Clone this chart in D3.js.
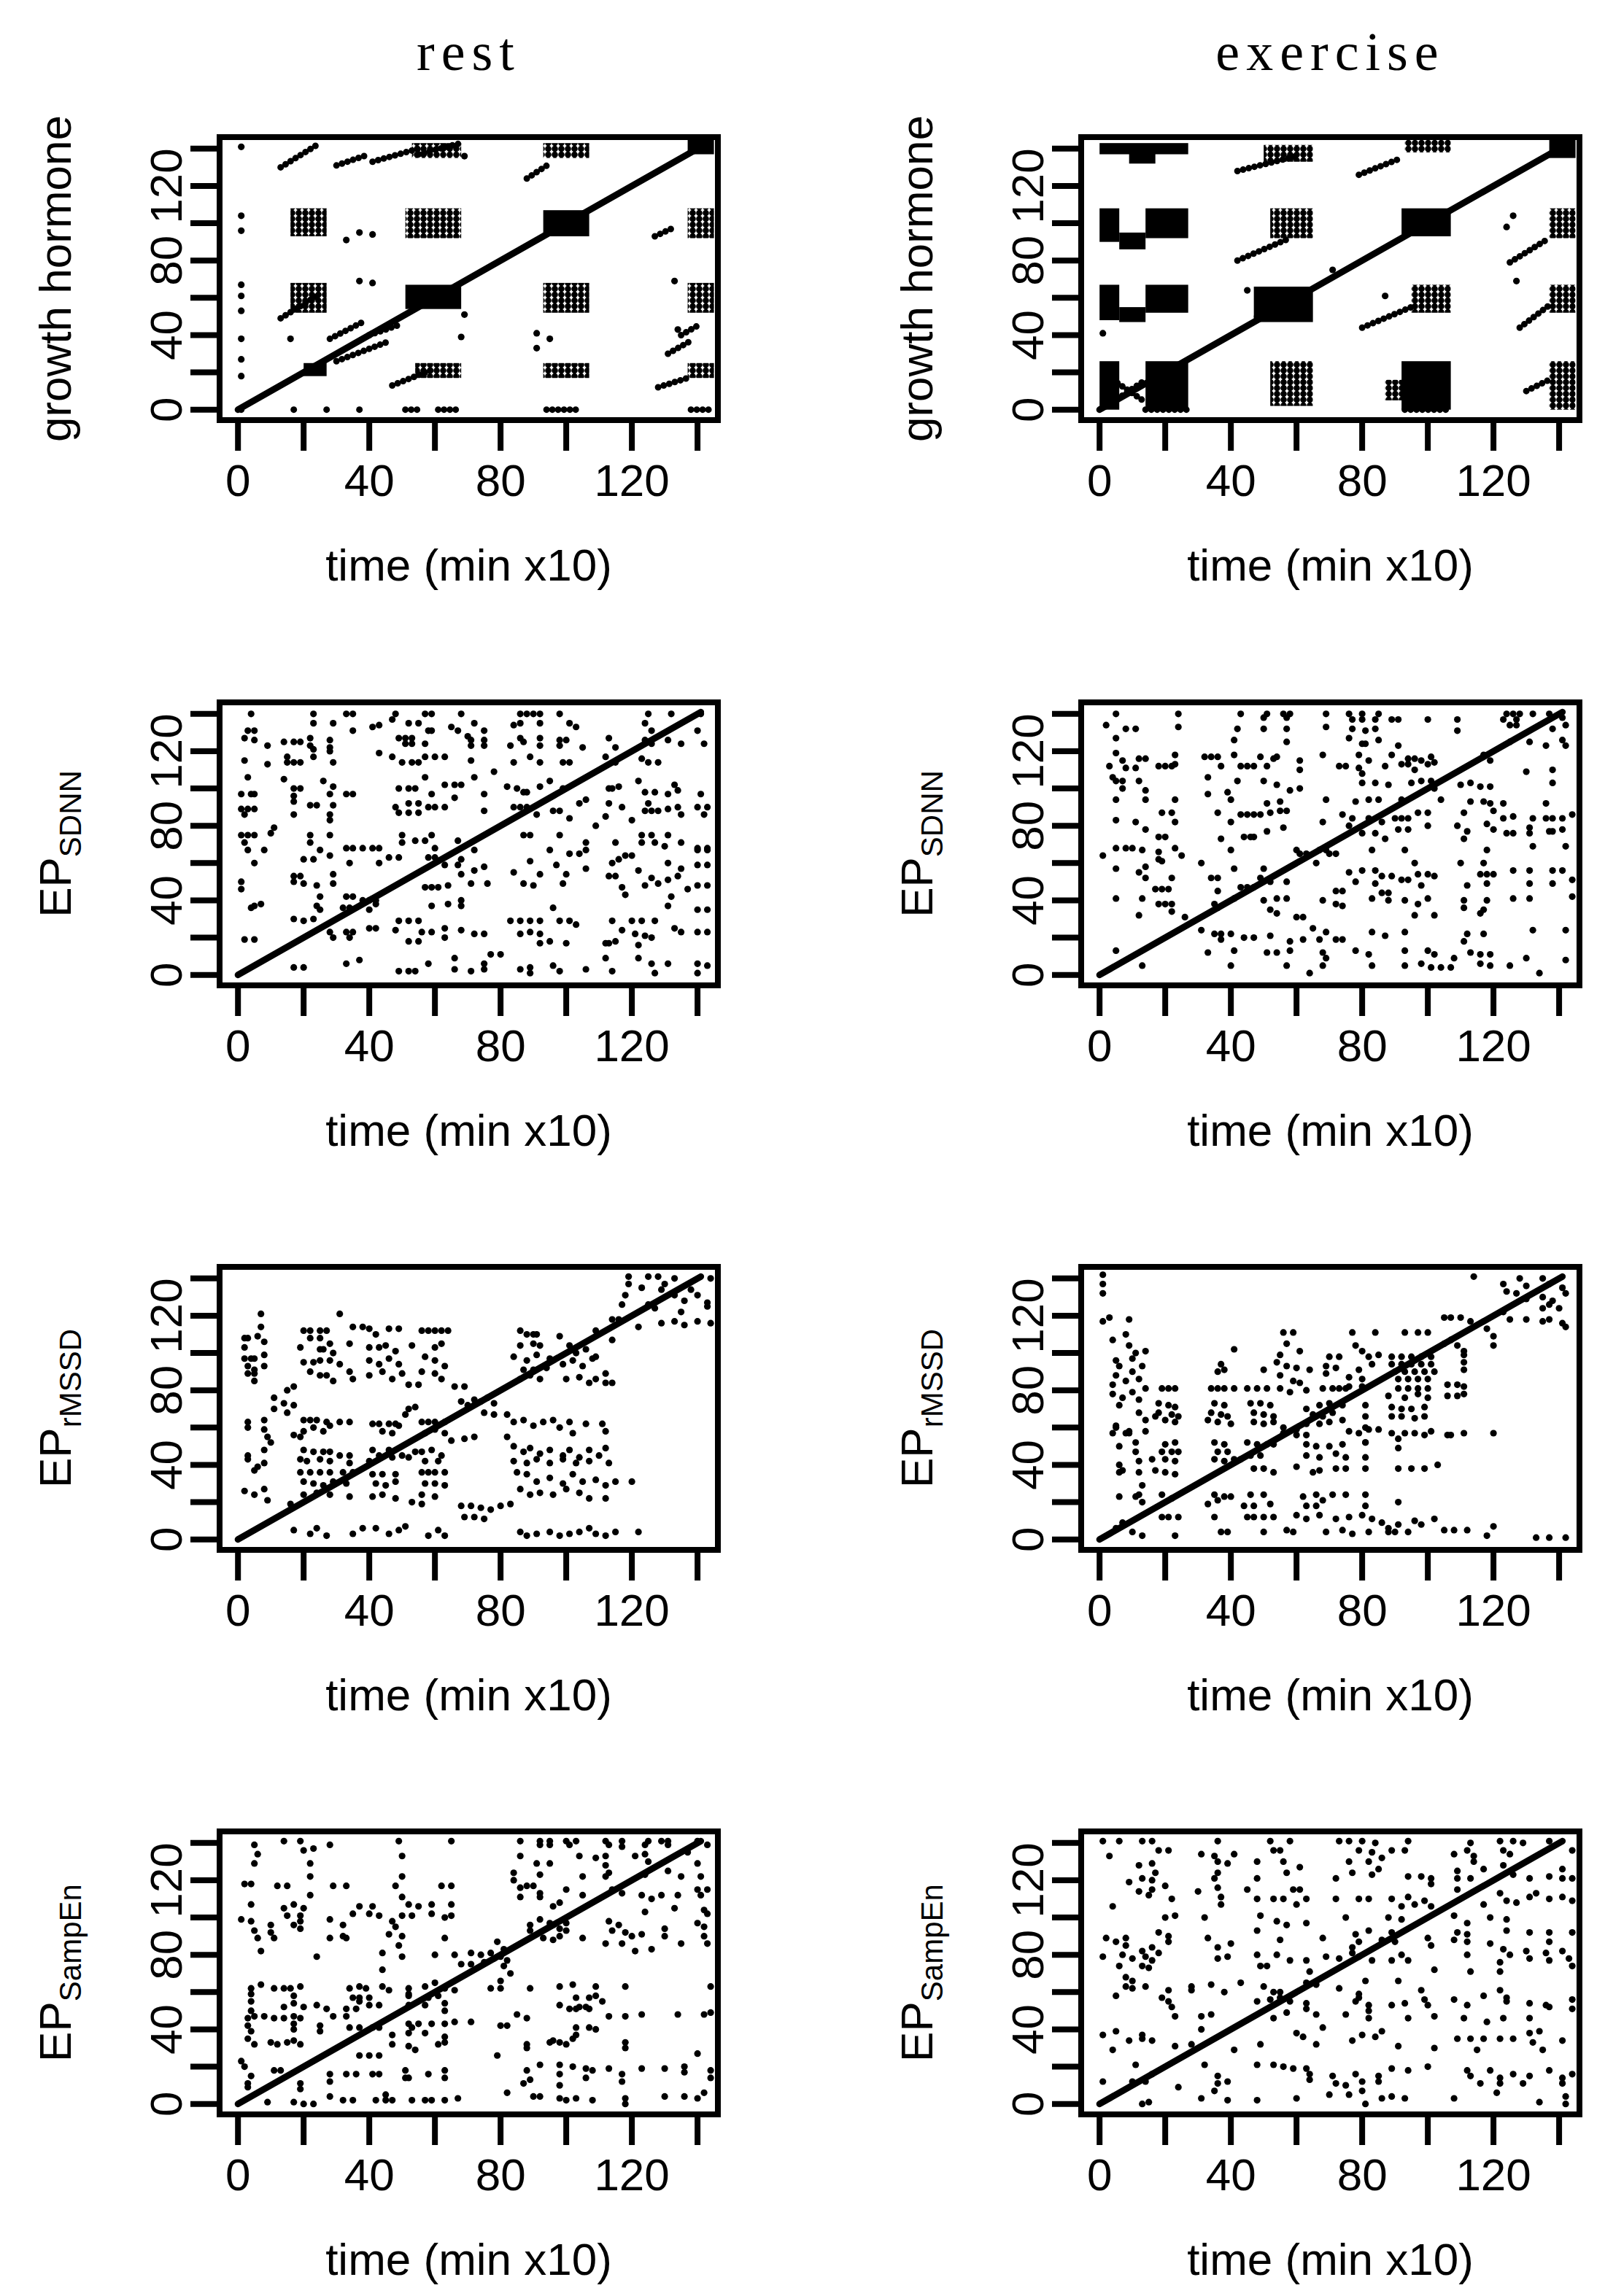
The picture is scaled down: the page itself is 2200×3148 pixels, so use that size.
<!DOCTYPE html>
<html>
<head>
<meta charset="utf-8">
<script src="https://cdn.jsdelivr.net/npm/d3@7"></script>
<style>
  body { margin: 0; background: #fff; }
  text { font-family: "Liberation Sans", Arial, sans-serif; fill: #000; }
</style>
</head>
<body>
<svg id="chart" width="2200" height="3148"></svg>
<script>
// column titles, row labels
var columns = ["rest", "exercise"];
var rowLabels = [
  {main: "growth hormone", sub: null},
  {main: "EP", sub: "SDNN"},
  {main: "EP", sub: "rMSSD"},
  {main: "EP", sub: "SampEn"}
];
var xTicks = [0, 20, 40, 60, 80, 100, 120, 140];
var tickLabels = [0, 40, 80, 120];
var diagonal = [[0, 0], [141, 141]];

// recurrence points, "x y" pairs
var restSDNN = "4 140,23 140,33 140,35 140,48 140,57 140,59 140,68 140,86 140,88 140,90 140,92 140,98 140,125 140,132 140,141 140,47 137,23 135,29 135,35 131,41 133,43 134,52 135,55 135,58 131,59 131,65 133,67 131,70 128,72 135,75 131,84 134,86 135,92 135,101 135,103 133,124 135,126 131,140 131,3 131,5 131,2 127,5 126,9 123,14 125,17 125,19 125,22 127,22 123,28 126,28 122,49 127,51 127,53 127,51 124,53 124,57 124,71 126,71 123,75 126,75 123,83 123,86 127,87 125,92 127,92 123,98 126,100 126,98 123,105 122,113 127,115 122,124 126,126 124,131 126,135 124,142 124,2 115,9 113,15 114,17 114,19 114,15 117,23 117,23 121,28 120,29 114,43 119,47 117,50 114,53 114,55 114,57 117,60 117,63 117,71 115,84 114,89 117,92 114,99 114,101 114,112 117,115 114,123 116,125 114,128 114,78 109,3 106,1 97,4 97,5 97,14 105,17 100,19 100,17 96,26 104,29 101,28 97,33 97,35 97,49 100,52 100,54 100,57 106,63 102,66 102,68 102,59 97,66 95,72 106,75 97,82 101,85 100,87 98,88 98,92 101,95 104,99 100,113 100,114 100,116 101,122 104,124 98,127 98,131 97,133 102,134 99,141 97,1 89,3 89,5 89,2 86,17 93,17 86,22 91,24 91,29 91,28 86,28 83,48 90,49 87,52 87,55 87,52 92,55 92,58 90,60 90,63 90,75 88,84 90,86 90,88 90,91 86,96 88,98 88,101 84,104 92,106 94,109 80,112 85,113 92,117 90,120 83,124 88,126 88,128 88,125 92,131 89,134 90,135 86,140 90,143 90,142 86,1 75,3 75,5 75,2 71,11 79,10 76,22 75,22 71,28 75,50 75,50 71,54 72,57 72,59 75,67 72,87 75,89 75,98 75,106 71,115 71,123 75,123 71,126 75,127 71,131 75,130 69,135 71,140 68,143 68,3 67,8 67,5 60,20 62,23 62,25 67,28 64,33 68,35 68,38 68,41 68,43 68,34 60,46 63,49 63,43 60,58 63,60 63,60 68,63 59,67 59,68 62,72 67,75 58,89 61,95 67,97 59,101 65,104 65,106 67,106 57,114 60,116 62,118 64,120 64,131 60,135 57,140 67,143 67,140 59,143 59,1 50,1 46,17 53,19 53,17 50,20 49,24 48,29 54,29 49,57 47,59 47,61 47,64 48,68 54,71 49,72 56,76 49,84 55,87 49,92 54,90 48,100 54,99 49,113 53,115 53,117 47,118 43,122 56,124 48,126 52,128 49,131 51,134 53,137 46,140 48,143 48,4 36,5 37,7 38,25 42,24 37,33 42,35 42,32 36,34 36,38 40,40 40,42 40,40 35,42 38,59 37,64 38,68 40,68 37,96 36,132 42,131 37,140 35,143 35,17 30,20 29,23 30,25 35,28 23,29 20,33 23,35 23,34 20,40 25,42 25,49 29,52 29,55 29,48 24,52 18,55 18,56 23,59 23,63 25,63 20,68 24,72 22,75 22,83 29,86 29,89 29,92 29,86 22,89 23,92 22,98 29,101 29,103 27,95 18,100 17,92 17,114 29,117 24,113 17,120 29,123 29,127 29,121 22,124 21,126 20,133 25,135 23,140 23,143 23,2 19,5 19,112 17,122 16,115 18,66 9,77 11,80 11,33 6,37 8,17 4,20 4,49 2,52 2,54 2,58 6,66 3,71 2,75 3,75 6,86 3,89 4,89 1,96 5,98 2,106 3,112 9,114 2,122 9,126 6,127 1,131 6,140 6,143 5,140 1";

var exSDNN = "5 140,24 140,43 140,51 140,56 140,58 140,69 140,76 140,80 140,85 140,124 140,126 140,128 140,132 140,137 140,50 138,57 138,77 137,80 137,84 137,89 137,91 137,100 137,109 137,123 137,127 137,141 138,2 134,8 132,11 132,24 133,42 132,50 132,57 132,69 133,77 132,81 131,84 132,109 131,125 134,127 134,138 132,142 134,5 127,41 126,57 125,76 127,80 124,81 124,85 126,91 123,125 125,131 125,136 123,141 126,142 123,5 119,7 115,12 116,14 116,23 118,32 117,34 117,36 117,41 118,49 117,53 116,54 117,61 115,68 118,79 118,82 115,89 118,94 116,96 116,98 115,101 117,102 114,117 118,119 115,18 112,20 112,22 112,23 113,37 112,43 112,45 112,47 112,51 112,61 110,73 112,75 112,79 111,80 108,87 112,92 113,94 113,96 110,100 113,130 109,138 110,8 111,11 111,3 112,4 106,5 104,7 104,7 100,12 104,14 99,33 106,33 97,42 104,39 98,50 104,54 102,58 99,61 100,80 103,84 103,88 102,95 103,98 104,101 104,102 100,110 102,113 103,116 101,119 101,138 103,5 94,14 94,23 94,40 94,51 92,55 93,69 94,78 93,82 94,85 94,92 94,104 94,113 93,117 93,119 92,123 92,136 92,19 87,22 87,36 87,43 86,45 86,47 86,49 86,52 87,55 88,57 88,74 86,77 84,82 84,86 82,90 84,92 84,94 84,97 87,100 87,111 87,120 88,123 84,126 85,132 84,136 84,138 84,141 84,144 86,5 83,11 82,14 78,23 82,40 82,51 77,56 79,68 82,76 80,80 76,84 76,87 73,91 78,94 78,100 80,109 80,112 77,111 73,118 81,120 78,124 76,126 76,131 76,131 79,137 77,138 77,141 78,37 73,44 74,46 74,47 74,18 74,20 74,1 64,5 68,8 68,10 68,13 67,18 66,18 62,19 61,23 68,25 64,31 60,40 67,60 67,61 65,63 65,67 67,69 67,70 65,72 65,83 67,93 67,118 67,132 69,142 69,66 60,5 57,14 58,12 55,96 60,110 60,117 60,14 52,22 52,34 52,36 52,41 57,50 57,49 52,52 50,57 50,76 55,80 56,78 50,84 56,86 53,89 53,84 49,92 51,94 51,97 54,100 54,102 53,98 48,112 48,116 54,118 54,120 54,118 49,126 56,131 56,131 49,138 56,138 49,141 56,144 51,17 46,19 46,21 46,72 45,74 45,5 41,13 41,36 45,43 47,45 47,47 47,41 41,50 40,54 41,57 41,68 40,72 38,74 37,83 41,86 44,88 44,88 40,93 40,97 38,100 41,111 40,111 36,118 40,117 35,126 41,131 41,144 42,18 38,20 38,22 38,35 38,36 36,12 32,22 34,26 31,52 35,54 33,60 31,62 31,96 32,102 32,116 33,31 24,35 22,37 22,40 22,37 19,44 20,47 20,52 21,58 18,62 19,65 25,69 23,67 19,72 19,74 19,83 23,87 21,93 23,112 22,111 18,117 22,132 24,142 24,5 13,33 12,41 13,51 12,54 12,58 13,68 12,69 9,78 13,82 11,93 13,100 13,102 11,108 9,113 12,116 11,119 11,130 9,142 8,13 5,40 5,57 5,68 5,83 5,93 5,98 6,101 4,104 4,107 4,116 6,119 5,125 5,64 1,134 1";

var restRMSSD = "116 118,117 126,118 131,119 137,119 141,123 135,125 141,128 141,130 137,133 140,125 126,127 124,129 134,133 131,136 128,135 122,138 134,140 131,143 127,143 125,144 140,122 114,129 116,133 117,136 115,140 117,144 116,109 112,114 107,114 118,7 121,7 114,2 108,3 108,6 109,8 106,2 103,2 97,4 97,5 97,8 99,3 93,5 91,8 93,3 89,5 89,5 85,31 121,20 112,22 112,25 112,27 112,35 114,38 114,22 108,25 108,28 105,19 103,25 102,26 102,29 100,34 105,20 95,23 95,25 96,28 96,31 94,22 90,25 88,27 88,29 85,34 90,35 86,40 113,42 110,46 113,49 113,40 103,43 103,45 104,48 101,40 96,43 94,46 97,49 94,40 88,44 90,47 86,50 89,56 112,58 112,60 112,62 112,64 112,53 104,60 103,62 105,57 98,60 96,63 93,56 90,60 89,62 86,52 83,55 83,86 112,88 110,90 110,91 110,86 104,90 105,92 104,84 98,88 96,91 99,95 97,87 91,90 91,94 92,86 86,89 88,92 86,98 109,101 104,103 100,106 102,109 98,99 94,102 96,105 93,108 97,104 87,107 84,109 86,112 89,112 84,114 84,100 86,69 82,68 74,70 72,72 75,74 74,76 76,78 73,75 68,78 67,82 67,66 82,17 82,15 80,11 76,14 73,17 72,11 70,15 68,52 70,54 71,51 67,3 63,8 64,3 60,8 59,10 52,9 55,3 45,8 48,3 43,8 41,5 37,6 39,20 64,22 64,24 64,27 63,28 61,31 63,34 63,17 56,19 55,20 58,23 60,26 58,20 48,23 47,26 47,28 47,31 45,19 43,21 42,25 43,28 42,34 45,34 41,41 62,43 62,46 62,48 62,44 58,47 57,49 61,41 48,43 45,46 48,47 44,40 42,50 45,52 44,54 47,56 63,58 63,60 63,63 63,57 57,60 59,63 57,56 47,59 48,62 45,57 42,61 42,65 53,69 54,72 55,84 63,87 64,90 61,93 63,96 64,98 60,101 63,102 57,106 62,111 62,112 58,82 55,84 50,87 47,89 49,92 46,95 48,99 45,101 48,104 44,107 48,110 45,112 49,84 42,88 41,91 43,95 41,99 43,103 41,107 42,113 41,19 36,22 36,25 36,28 36,32 36,35 36,20 31,23 30,26 29,29 31,33 30,20 24,24 25,28 24,34 23,2 26,5 24,8 27,41 35,44 35,48 35,42 30,45 29,48 31,41 23,44 24,48 22,56 36,58 36,60 36,63 36,57 30,60 30,63 29,56 24,60 23,53 20,56 19,68 18,71 18,74 17,77 16,80 18,83 19,85 36,88 35,91 31,95 33,99 30,102 35,105 31,109 32,112 29,115 31,86 27,89 24,92 25,96 24,100 27,104 25,107 22,112 22,120 31,9 21,16 19,69 12,72 12,75 11,17 5,22 3,24 6,27 2,35 3,38 6,42 6,46 3,49 5,51 7,58 2,61 5,63 2,86 4,88 2,91 3,95 4,98 2,101 3,104 4,107 6,109 3,112 2,115 4,122 4";

var exRMSSD = "114 141,123 137,128 140,130 136,135 140,137 137,141 135,124 133,127 132,130 129,135 130,138 128,142 132,135 124,137 126,140 124,123 122,125 118,130 118,135 117,137 118,141 116,142 114,1 142,1 137,1 132,1 117,3 119,9 118,105 119,107 119,110 119,113 117,118 113,120 109,120 104,111 101,4 107,8 110,9 104,11 100,14 101,5 96,6 93,10 97,13 93,5 88,4 83,8 85,10 90,12 86,14 81,4 78,6 72,7 76,10 79,12 75,12 68,14 64,5 61,8 57,9 58,6 50,11 52,11 47,12 42,6 40,7 37,13 29,11 23,13 20,5 6,7 9,10 4,13 2,23 2,41 102,37 94,38 91,36 90,56 111,59 111,57 105,55 99,61 101,54 95,57 93,60 92,64 91,50 91,55 88,59 85,61 84,70 98,73 98,69 93,72 92,69 89,77 111,78 104,80 101,82 98,83 94,79 91,85 99,84 111,76 87,80 86,93 111,97 111,100 111,111 99,111 95,111 91,89 98,92 98,95 98,98 98,101 98,89 94,92 94,95 94,98 94,101 94,90 90,93 90,96 90,99 90,102 90,91 86,94 86,97 86,100 86,105 105,107 107,109 104,19 81,21 81,23 81,34 81,36 81,38 81,41 81,45 81,48 81,51 81,55 81,58 79,63 80,68 81,71 81,73 81,75 81,76 82,80 82,91 81,94 81,97 81,100 81,106 83,109 83,106 77,109 77,111 82,111 78,88 77,93 76,97 78,100 76,18 73,21 72,23 71,18 68,22 67,24 66,17 66,20 64,23 63,35 73,38 72,34 68,37 67,39 66,33 64,36 63,40 62,46 73,49 73,52 72,47 68,50 67,53 66,47 63,50 62,53 63,56 60,63 70,67 72,70 73,74 72,65 67,68 66,71 68,74 64,63 62,67 62,70 63,60 59,81 72,81 66,81 60,89 71,92 70,95 70,99 71,89 66,92 66,96 65,99 66,4 57,5 60,9 57,14 58,56 57,60 56,63 56,76 58,79 57,82 59,85 59,89 57,91 54,93 57,96 57,99 56,101 58,106 56,107 56,111 57,120 57,81 52,91 49,20 51,23 52,19 47,22 47,24 47,16 43,20 43,23 42,17 37,20 36,23 35,35 52,38 51,36 47,39 47,35 43,38 42,41 43,45 52,48 51,51 51,53 51,46 45,49 45,43 43,47 38,50 38,53 36,63 51,66 50,70 50,74 51,63 45,67 44,72 46,75 44,60 39,65 36,67 37,72 38,75 38,81 52,81 44,81 38,6 36,12 36,91 38,95 38,99 38,103 40,6 23,12 24,19 24,22 22,35 24,38 23,40 23,46 24,50 24,33 19,36 21,44 18,47 18,52 19,62 23,66 24,68 21,71 24,75 24,63 18,66 18,81 24,81 18,91 20,19 12,21 12,24 12,35 12,45 12,47 12,50 12,53 12,60 13,63 11,67 13,72 11,76 12,80 13,83 11,86 9,88 6,91 8,96 10,98 8,102 11,105 5,108 5,112 5,120 7,118 2,37 4,39 4,50 4,57 5,59 4,69 4,74 5,77 3,82 4,88 4,90 4,94 4,133 1,137 1,142 1";

var restSampEn = "14 141,19 141,49 141,65 141,86 141,92 141,95 141,100 141,103 141,112 141,117 141,125 141,129 141,131 141,140 141,5 139,6 134,20 136,23 137,28 139,92 139,95 139,101 139,113 139,117 138,124 139,131 139,143 139,137 135,50 133,86 133,5 129,22 129,91 129,95 129,104 133,109 132,112 133,121 133,124 134,125 130,140 129,112 128,124 123,22 122,50 122,84 124,92 123,105 122,112 122,113 124,131 125,135 122,141 122,2 118,4 118,12 117,15 117,29 117,33 117,48 117,62 117,65 117,84 120,86 116,88 117,90 117,92 113,100 115,105 112,114 115,117 113,123 112,126 110,129 112,134 112,140 115,143 115,141 112,50 111,22 112,86 111,92 111,4 107,14 105,17 107,20 105,37 106,41 106,52 107,55 106,59 107,65 107,35 102,40 102,43 101,15 101,19 101,50 101,53 101,59 102,63 100,65 101,124 103,133 105,142 104,143 102,96 106,98 108,1 99,4 98,5 93,6 89,10 96,10 92,11 89,17 96,19 98,19 94,28 99,32 96,32 90,28 89,33 89,47 98,46 91,50 90,48 95,63 89,92 99,95 97,100 97,89 93,98 94,105 89,113 98,114 93,116 96,118 92,120 90,123 91,130 94,130 90,140 97,142 95,142 90,112 86,117 86,135 86,143 86,121 82,126 83,96 88,93 89,7 82,24 79,44 81,49 85,50 79,60 80,66 80,71 81,74 80,77 81,80 79,82 77,68 75,71 75,75 76,81 74,78 78,44 72,83 70,80 66,77 62,80 62,4 62,7 64,11 62,14 62,16 62,19 63,34 62,37 63,39 62,44 63,46 61,52 62,52 59,57 63,60 65,63 62,66 61,89 62,98 63,102 64,109 63,118 63,144 63,4 59,4 55,4 50,17 58,14 52,17 54,20 52,24 53,27 51,35 57,37 57,40 57,33 51,36 51,40 53,37 55,43 53,52 58,52 53,57 53,58 57,61 58,63 54,63 50,103 57,107 57,109 58,103 51,104 52,106 52,107 51,111 55,98 53,101 51,85 48,88 46,113 47,118 47,123 48,134 48,142 48,144 49,3 46,5 47,8 47,11 46,14 46,17 47,19 46,3 42,4 39,17 43,17 40,25 42,25 39,29 47,33 47,34 41,37 41,41 41,43 41,52 43,53 41,55 43,59 43,63 43,66 44,71 44,52 38,57 38,63 36,80 42,82 42,103 41,103 37,107 41,109 40,47 37,3 35,5 32,10 33,12 32,15 33,17 34,19 32,47 32,52 31,54 29,61 32,63 33,88 32,88 30,95 33,96 34,98 33,100 32,102 35,118 33,118 30,140 27,37 26,40 26,43 26,79 26,1 23,2 20,4 15,11 18,13 18,19 11,28 16,28 12,33 16,36 16,41 16,43 16,51 18,51 14,52 14,58 16,63 18,63 14,88 18,92 21,98 21,98 16,102 20,106 19,108 18,106 14,89 13,87 11,98 10,113 19,117 16,117 12,123 19,130 19,136 20,136 17,144 18,144 14,3 11,19 8,3 9,28 4,32 2,35 2,42 2,45 2,47 2,53 2,57 2,59 2,63 2,67 3,9 1,17 1,20 0,23 0,45 5,82 6,90 4,92 4,98 3,100 2,103 3,108 2,118 3,118 0,130 4,136 4,140 3,142 6,89 96,96 96,98 90,100 93,79 87,81 83";

var exSampEn = "1 141,6 141,13 141,16 141,36 141,52 141,58 141,73 141,76 141,80 141,84 140,94 141,113 140,122 141,126 141,129 140,137 141,3 133,18 136,21 136,31 134,35 133,41 134,53 136,55 136,79 136,83 135,86 132,89 136,93 136,108 134,112 136,114 133,123 136,125 134,144 136,12 128,16 129,13 121,16 120,9 119,17 124,36 130,39 129,36 124,35 121,48 130,56 130,61 127,57 124,48 121,72 121,76 130,77 124,82 130,83 123,85 126,94 122,98 122,101 121,101 118,109 125,109 121,113 121,114 130,117 126,123 128,126 123,131 121,137 122,141 126,141 121,144 121,12 114,16 115,20 117,30 114,36 116,37 111,37 107,45 115,48 110,53 110,56 110,59 115,61 115,60 107,63 110,72 110,79 110,82 110,89 110,92 106,94 111,96 107,99 109,101 106,109 115,117 107,122 113,124 109,127 108,131 111,133 113,137 110,141 111,144 109,4 106,15 112,22 110,20 100,23 101,32 100,49 101,48 93,54 98,57 96,63 97,75 100,55 88,78 91,82 93,79 87,86 88,88 100,92 99,89 92,90 87,100 89,109 92,108 88,112 91,112 87,108 101,112 97,119 100,124 99,124 93,131 92,137 92,137 87,144 92,18 92,21 90,21 87,33 89,68 89,5 87,2 89,8 89,119 86,101 85,16 84,13 82,8 85,1 79,7 80,10 78,14 79,16 77,18 81,6 74,13 74,15 73,36 84,40 86,36 78,39 79,48 80,49 74,51 74,54 80,58 77,63 77,64 71,69 79,73 78,77 84,77 81,79 79,83 77,89 77,92 80,94 77,102 72,112 80,113 71,123 83,125 80,122 76,122 71,130 82,131 78,136 81,137 77,141 82,143 78,144 74,8 68,10 66,8 63,14 63,10 62,5 58,28 63,34 64,38 60,43 65,50 63,53 60,55 60,63 65,66 64,73 62,79 59,81 66,91 66,122 61,21 61,19 57,28 61,21 55,22 52,23 47,31 47,34 48,48 55,52 56,55 57,58 55,57 49,53 46,63 54,63 51,66 48,75 48,78 55,79 57,82 53,82 50,82 46,89 53,93 54,98 61,99 56,100 53,94 46,102 47,108 56,112 53,111 46,118 44,117 58,123 46,124 55,124 57,131 54,131 46,136 53,137 52,144 56,144 51,1 37,5 39,4 29,9 34,13 37,13 35,16 34,23 31,28 32,31 40,41 29,49 32,60 38,62 36,66 32,68 41,77 34,80 37,84 36,86 39,91 31,102 30,109 35,113 35,117 35,115 29,122 35,126 35,131 38,132 33,134 39,135 29,141 34,11 21,32 21,48 21,53 21,56 20,59 19,63 19,64 16,64 13,71 15,72 11,75 10,78 16,80 12,85 15,89 19,94 18,100 20,112 18,113 15,116 11,119 18,122 14,122 11,126 16,129 11,131 15,137 18,141 14,141 11,144 16,1 12,10 12,14 12,16 16,24 9,36 15,36 11,39 12,35 7,48 2,80 7,85 12,13 0,15 1,31 3,39 2,60 3,70 5,76 5,81 0,86 3,89 4,93 3,108 3,121 6,134 1,142 4,142 0";

// growth hormone: dense recurrence blocks [x0, x1, y0, y1] and short diagonal runs [x0, y0, x1, y1]
var restGHSolid = [[20, 27, 18, 25], [51, 68, 54, 67], [93, 107, 93, 107], [137, 145, 137, 145]];
var restGHSparse = [[16, 27, 93, 108], [51, 68, 92, 108], [137, 145, 92, 108], [16, 27, 52, 68],
  [93, 107, 52, 68], [137, 145, 52, 68], [54, 68, 17, 25], [93, 107, 17, 25], [137, 145, 17, 25],
  [93, 107, 135, 143], [53, 68, 135, 143]];
var restGHRuns = [[13, 130, 25, 143], [30, 131, 40, 137], [41, 133, 55, 140], [55, 137, 68, 143],
  [88, 124, 95, 132], [127, 93, 132, 97], [13, 49, 25, 62], [28, 38, 38, 47], [30, 26, 45, 36],
  [47, 13, 60, 22], [40, 40, 50, 46], [131, 30, 138, 37], [128, 12, 137, 17], [135, 40, 140, 45],
  [1, 0, 1, 0], [17, 0, 17, 0], [27, 0, 27, 0], [37, 0, 37, 0], [51, 0, 56, 0], [61, 0, 68, 0],
  [94, 0, 104, 0], [138, 0, 145, 0]];
var restGHPoints = "1 141,1 104,1 96,1 67,1 61,1 53,1 38,1 27,1 18,33 91,37 95,41 94,37 69,41 68,16 38,69 51,68 39,69 136,91 41,95 38,91 33,133 69,134 43";

var exGHSolid = [[0, 6, 0, 26], [14, 27, 0, 26], [0, 6, 48, 67], [14, 27, 52, 67], [6, 14, 47, 55],
  [0, 6, 90, 108], [14, 27, 92, 108], [6, 14, 86, 95], [0, 27, 137, 143], [9, 17, 132, 138],
  [47, 65, 47, 66], [92, 107, 93, 108], [92, 107, 0, 26], [137, 145, 135, 145]];
var exGHSparse = [[52, 65, 2, 26], [87, 93, 5, 16], [95, 107, 52, 67], [137, 145, 0, 26],
  [137, 145, 52, 67], [137, 145, 92, 108], [52, 65, 92, 108], [50, 65, 133, 142], [93, 107, 138, 145]];
var exGHRuns = [[42, 80, 58, 92], [42, 128, 60, 136], [80, 44, 95, 55], [79, 126, 92, 135],
  [125, 79, 137, 92], [128, 44, 137, 56], [130, 10, 137, 16], [4, 4, 14, 16], [4, 16, 14, 4],
  [93, 0, 107, 0], [14, 0, 27, 0]];
var exGHPoints = "1 41,48 50,45 64,71 75,124 98,126 104,87 61,127 69";

var panels = [
  {col: 0, row: 0, points: restGHPoints, solid: restGHSolid, sparse: restGHSparse, runs: restGHRuns},
  {col: 1, row: 0, points: exGHPoints, solid: exGHSolid, sparse: exGHSparse, runs: exGHRuns},
  {col: 0, row: 1, points: restSDNN},
  {col: 1, row: 1, points: exSDNN},
  {col: 0, row: 2, points: restRMSSD},
  {col: 1, row: 2, points: exRMSSD},
  {col: 0, row: 3, points: restSampEn},
  {col: 1, row: 3, points: exSampEn}
];

function parsePairs(s) {
  return s.split(",").map(function(p) { return p.trim().split(" ").map(Number); });
}

var svg = d3.select("#chart");
var colLeft = [301, 1482];
var rowTop = [188, 963, 1737, 2511];
var boxW = 683, boxH = 388;
var domain = [-5.6, 146.2];
var dotR = 4.6;

var defs = svg.append("defs");
defs.append("pattern").attr("id", "speckle").attr("patternUnits", "userSpaceOnUse")
  .attr("width", 9).attr("height", 8)
  .append("circle").attr("cx", 4.5).attr("cy", 4).attr("r", 4.3).attr("fill", "#000");

columns.forEach(function(c, i) {
  svg.append("text")
    .attr("x", colLeft[i] + boxW / 2).attr("y", 96)
    .attr("text-anchor", "middle")
    .style("font-family", "'Liberation Serif', 'DejaVu Serif', serif")
    .style("font-size", "74px")
    .style("letter-spacing", "9px")
    .text(c);
});

panels.forEach(function(p) {
  var left = colLeft[p.col], top = rowTop[p.row];
  var x = d3.scaleLinear().domain(domain).range([left, left + boxW]);
  var y = d3.scaleLinear().domain(domain).range([top + boxH, top]);
  var g = svg.append("g");

  var clipId = "clip-" + p.col + "-" + p.row;
  defs.append("clipPath").attr("id", clipId).append("rect")
    .attr("x", left).attr("y", top).attr("width", boxW).attr("height", boxH);
  var plot = g.append("g").attr("clip-path", "url(#" + clipId + ")");

  if (p.sparse) {
    plot.selectAll(".sparse").data(p.sparse).join("rect")
      .attr("x", function(d) { return x(d[0]); })
      .attr("y", function(d) { return y(d[3]); })
      .attr("width", function(d) { return x(d[1]) - x(d[0]); })
      .attr("height", function(d) { return y(d[2]) - y(d[3]); })
      .attr("fill", "url(#speckle)");
  }
  if (p.solid) {
    plot.selectAll(".solid").data(p.solid).join("rect")
      .attr("x", function(d) { return x(d[0]); })
      .attr("y", function(d) { return y(d[3]); })
      .attr("width", function(d) { return x(d[1]) - x(d[0]); })
      .attr("height", function(d) { return y(d[2]) - y(d[3]); })
      .attr("fill", "#000");
  }
  if (p.runs) {
    plot.selectAll(".run").data(p.runs).join("line")
      .attr("x1", function(d) { return x(d[0]); })
      .attr("y1", function(d) { return y(d[1]); })
      .attr("x2", function(d) { return x(d[2]); })
      .attr("y2", function(d) { return y(d[3]); })
      .attr("stroke", "#000").attr("stroke-width", 9).attr("stroke-linecap", "round")
      .attr("stroke-dasharray", "0 8");
  }

  plot.selectAll(".dot").data(parsePairs(p.points)).join("circle")
    .attr("cx", function(d) { return x(d[0]); })
    .attr("cy", function(d) { return y(d[1]); })
    .attr("r", dotR).attr("fill", "#000");

  plot.append("line")
    .attr("x1", x(diagonal[0][0])).attr("y1", y(diagonal[0][1]))
    .attr("x2", x(diagonal[1][0])).attr("y2", y(diagonal[1][1]))
    .attr("stroke", "#000").attr("stroke-width", 9).attr("stroke-linecap", "round");

  // box
  g.append("rect").attr("x", left).attr("y", top).attr("width", boxW).attr("height", boxH)
    .attr("fill", "none").attr("stroke", "#000").attr("stroke-width", 8);

  // x ticks
  g.selectAll(".xt").data(xTicks).join("line")
    .attr("x1", function(d) { return x(d); }).attr("x2", function(d) { return x(d); })
    .attr("y1", top + boxH + 4).attr("y2", top + boxH + 42)
    .attr("stroke", "#000").attr("stroke-width", 8);
  g.selectAll(".xl").data(tickLabels).join("text")
    .attr("x", function(d) { return x(d); }).attr("y", top + boxH + 104)
    .attr("text-anchor", "middle").style("font-size", "62px")
    .text(function(d) { return d; });

  // y ticks
  g.selectAll(".yt").data(xTicks).join("line")
    .attr("y1", function(d) { return y(d); }).attr("y2", function(d) { return y(d); })
    .attr("x1", left - 4).attr("x2", left - 40)
    .attr("stroke", "#000").attr("stroke-width", 8);
  g.selectAll(".yl").data(tickLabels).join("text")
    .attr("transform", function(d) { return "translate(" + (left - 52) + "," + y(d) + ") rotate(-90)"; })
    .attr("text-anchor", "middle").style("font-size", "62px")
    .text(function(d) { return d; });

  // axis titles
  g.append("text")
    .attr("x", left + boxW / 2).attr("y", top + boxH + 220)
    .attr("text-anchor", "middle").style("font-size", "62px")
    .text("time (min x10)");

  var lab = rowLabels[p.row];
  var yt = g.append("text")
    .attr("transform", "translate(" + (left - 204) + "," + (top + boxH / 2) + ") rotate(-90)")
    .attr("text-anchor", "middle").style("font-size", "62px");
  yt.append("tspan").text(lab.main);
  if (lab.sub) {
    yt.append("tspan").attr("dy", 14).style("font-size", "42px").text(lab.sub);
  }
});
</script>
</body>
</html>
